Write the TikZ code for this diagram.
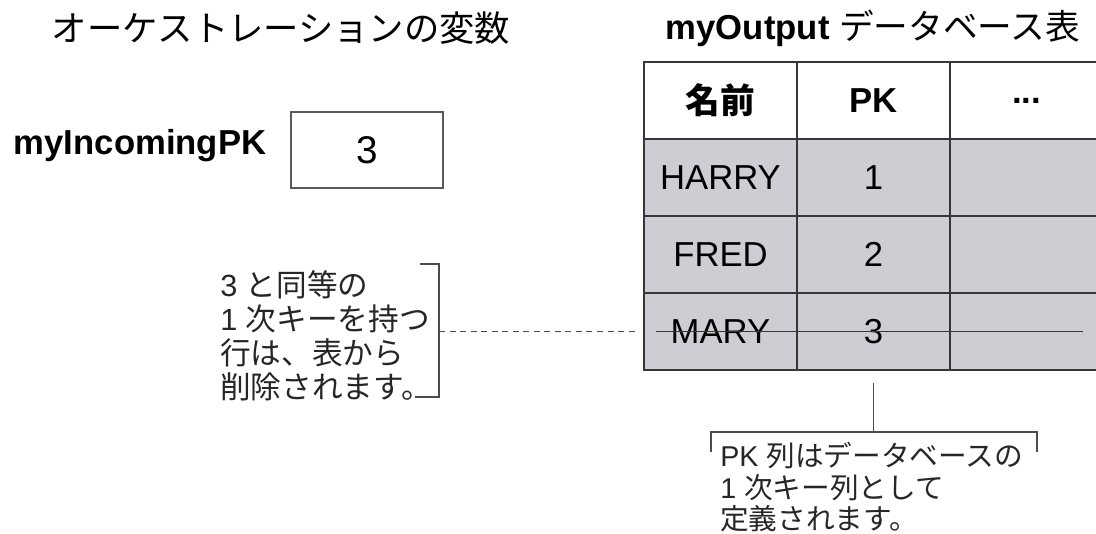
\documentclass[tikz,border=0pt]{standalone}
\usepackage{fontspec}
\setmainfont{Liberation Sans}
\newfontfamily\jp{Noto Sans CJK JP}
\definecolor{rowgray}{RGB}{205,206,211}
\definecolor{linegray}{RGB}{55,55,55}
\tikzset{
  cell/.style={draw=linegray, line width=1.3pt, minimum width=114.75pt, minimum height=57.75pt,
    inner sep=0pt, font=\fontsize{26}{30}\selectfont},
  headcell/.style={cell, fill=white, font=\fontsize{26}{30}\selectfont\bfseries},
  rowcell/.style={cell, fill=rowgray},
  brk/.style={draw=black!70, line width=0.8pt},
  note/.style={align=left, inner sep=0pt, anchor=north west, text=black!85}
}

\begin{document}
\begin{tikzpicture}[x=0.75pt, y=-0.75pt]
    \useasboundingbox (0,0) rectangle (1096,533);
    \clip (0,0) rectangle (1096,533);

    % Titres
    \node[font=\fontsize{26.5}{30}\selectfont\jp] (vartitle) at (281,28) {オーケストレーションの変数};
    \node[font=\fontsize{26}{30}\selectfont] (tabtitle) at (873,28) {\textbf{myOutput} {\jp データベース表}};

    % Variable d'orchestration
    \node[font=\fontsize{26}{30}\selectfont\bfseries] (varname) at (140,146) {myIncomingPK};
    \node[draw=black!65, line width=1pt, minimum width=114pt, minimum height=57pt,
        font=\fontsize{29}{32}\selectfont] (varbox) at (367,150) {3};

    % Table myOutput : en-tete
    \node[headcell] (name) at (720.5,100.5) {\jp 名前};
    \node[headcell] (pk) at (873.5,100.5) {PK};
    \node[headcell] (more) at (1026.5,100.5) {...};

    % Lignes
    \node[rowcell] (harry) at (720.5,177.5) {HARRY};
    \node[rowcell] (pk1) at (873.5,177.5) {1};
    \node[rowcell] (r1) at (1026.5,177.5) {};
    \node[rowcell] (fred) at (720.5,254.5) {FRED};
    \node[rowcell] (pk2) at (873.5,254.5) {2};
    \node[rowcell] (r2) at (1026.5,254.5) {};
    \node[rowcell] (mary) at (720.5,331.5) {MARY};
    \node[rowcell] (pk3) at (873.5,331.5) {3};
    \node[rowcell] (r3) at (1026.5,331.5) {};

    % Ligne barree
    \draw[linegray, line width=0.9pt] ([xshift=9.75pt]mary.west) -- ([xshift=-15.75pt]r3.east);

    % Note a gauche
    \node[note, font=\fontsize{23}{25.5}\selectfont] (delnote) at (220,270)
        {3 {\jp と同等の}\\1 {\jp 次キーを持つ}\\{\jp 行は、表から}\\{\jp 削除されます。}};
    \coordinate (lbtop) at (439,264);
    \coordinate (lbbot) at (439,397);
    \draw[brk] ([xshift=-14.25pt]lbtop) -- (lbtop) -- (lbbot) -- ([xshift=-18pt]lbbot);
    \draw[brk, line width=0.9pt, dash pattern=on 4.5pt off 3.4pt] (lbtop |- mary.west) -- ([xshift=-5pt]mary.west);

    % Note en bas
    \node[note, font=\fontsize{21.5}{23.5}\selectfont] (pknote) at (720,442)
        {PK {\jp 列はデータベースの}\\1 {\jp 次キー列として}\\{\jp 定義されます。}};
    \coordinate (bbl) at (711,432);
    \coordinate (bbr) at (1037,432);
    \draw[brk] ([yshift=-15pt]bbl) -- (bbl) -- (bbr) -- ([yshift=-15pt]bbr);
    \draw[brk] ([yshift=-9pt]pk3.south) -- (pk3.south |- bbl);
\end{tikzpicture}
\end{document}
